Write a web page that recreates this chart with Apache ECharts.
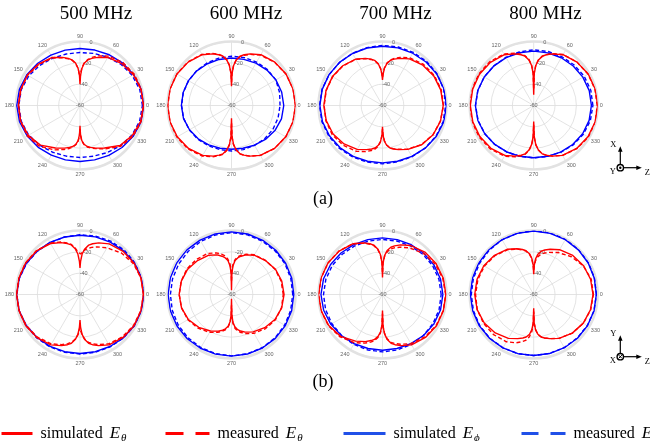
<!DOCTYPE html>
<html>
<head>
<meta charset="utf-8">
<script src="https://cdn.jsdelivr.net/npm/echarts@6/dist/echarts.min.js"></script>
<style>
  html, body { margin: 0; padding: 0; background: #fff; }
  #main { width: 650px; height: 441px; }
</style>
</head>
<body>
<div id="main"></div>
<script>
// angles (deg) for the theta curves, finer near the nulls at 90 / 270
var angRed = [0,15,30,45,60,70,76,80,84,87,89,90,91,93,96,100,104,110,120,135,150,165,180,
  195,210,225,240,250,256,260,264,267,269,270,271,273,276,280,284,290,300,315,330,345,360];
// angles for the phi curves
var angBlue = [0,15,30,45,60,75,90,105,120,135,150,165,180,195,210,225,240,255,270,285,300,315,330,345,360];

var freqs = ['500 MHz', '600 MHz', '700 MHz', '800 MHz'];
var radTicks = [-60, -40, -20, 0];

// ---- (a) row ----
var a500SimT = [-0.5,-0.9,-2.2,-4.5,-8,-12,-14.5,-16.5,-20,-25,-32,-40,-32,-25,-20,-16.5,-14.5,-12,-8,-5,-3,-2.4,-2.2,-2.5,-4,-7.5,-14,-17.5,-19.5,-21,-23.5,-27,-33,-41,-33,-27,-23.5,-21,-19.5,-17.5,-14,-7,-3.5,-1.2,-0.5];
var a500MeasT = [-0.3,-0.5,-1.2,-3,-6.5,-10.5,-13.5,-16,-19.5,-24,-30,-37,-31,-25,-20.5,-17,-15,-12.5,-8.5,-5.5,-3.3,-2.6,-2.5,-2.3,-3,-6,-12,-16,-18.5,-20.5,-23,-26.5,-32,-38,-32,-26.5,-23,-20.5,-19,-17,-13,-6,-2.5,-0.7,-0.3];
var a500SimP = [0,-0.5,-1.9,-3.6,-5.1,-6.2,-6.5,-6.3,-5.4,-4,-2.4,-1.2,-0.7,-1.3,-2.8,-4.6,-6.2,-7.2,-7.5,-7.2,-6,-4.3,-2.3,-0.7,0];
var a500MeasP = [-1.5,-2,-3.5,-5.5,-7.8,-9.5,-10.3,-10,-8.8,-6.8,-4.5,-3,-2.6,-3,-4.5,-7,-9.3,-10.8,-11.3,-10.8,-9,-6.5,-4,-2.2,-1.5];

var a600SimT = [0,-0.3,-1,-2.5,-5,-8.5,-11,-13,-17,-22.5,-30,-42,-30,-22.5,-17,-13,-11,-8.5,-5,-2.5,-1,-0.3,0,-0.4,-1.3,-3,-6,-9.5,-12,-14,-18,-23.5,-31,-48,-31,-23.5,-18,-14,-12,-9.5,-6,-3,-1.3,-0.4,0];
var a600MeasT = [0,-0.2,-1,-2.8,-5.5,-9,-11.5,-13.5,-17,-22,-29,-38,-29,-22,-16.5,-12.8,-10.5,-8,-4.6,-2.2,-0.8,-0.3,-0.3,-0.2,-0.8,-2.3,-5.2,-8.8,-11.5,-13.5,-17.5,-23,-30,-44,-30,-23,-18,-14,-12,-9.5,-6,-3,-1.2,-0.3,0];
var a600SimP = [-11,-11.3,-12,-13,-14.2,-15.2,-15.5,-15.3,-14.8,-14,-13.4,-13.1,-13,-13.4,-14.5,-15.8,-17.3,-18.5,-19,-18.5,-17,-15,-13,-11.5,-11];
var a600MeasP = [-14.5,-13.3,-12,-12.3,-13,-13.5,-13.8,-14,-14,-13.8,-13.5,-13.2,-13.2,-13.5,-14.3,-15.3,-16.5,-17.2,-17.3,-17.2,-16.8,-16,-15.2,-14.8,-14.5];

var a700SimT = [-3.1,-3.5,-4.5,-6.5,-9.5,-13,-15.2,-17,-20.5,-25,-31,-36,-31,-25,-20.5,-17,-15.2,-13,-9.8,-7.3,-5.8,-5.2,-5,-5.4,-6.5,-9,-12.5,-16,-18,-19.5,-22.5,-26.5,-32.5,-40,-32.5,-26.5,-22.5,-19.5,-18,-16,-12.5,-8,-5.2,-3.7,-3.1];
var a700MeasT = [-2.8,-3,-3.8,-5.5,-8.5,-12,-14.5,-16.5,-20,-24.5,-30,-34,-31,-25.5,-20.8,-17.3,-15.5,-13.3,-10,-7.5,-6,-5.4,-5.3,-5,-5.5,-7.5,-10.5,-14,-16.5,-18.3,-21.5,-26,-32,-38,-33,-27,-22.8,-19.8,-18.3,-16.3,-12.8,-8.2,-5.3,-3.8,-2.8];
var a700SimP = [0,-0.3,-1.2,-2.3,-3.4,-4.1,-4.4,-4.2,-3.7,-2.9,-2.1,-1.5,-1.3,-1.7,-2.7,-3.9,-5,-5.9,-6.2,-5.9,-4.9,-3.4,-1.8,-0.5,0];
var a700MeasP = [-0.8,-0.7,-0.8,-1.5,-2.5,-3.2,-3.6,-3.8,-3.6,-3,-2.2,-1.3,-1,-1.2,-2,-3,-4.2,-5,-5.3,-5.3,-4.6,-3.5,-2.2,-1.2,-0.8];

var a800SimT = [0,-0.3,-1,-2.5,-5,-8.5,-11,-13,-17,-22.5,-30,-50,-30,-22.5,-17,-13,-11,-8.5,-5,-2.7,-1.3,-0.8,-0.6,-0.9,-1.7,-3.3,-6,-9.5,-12,-14,-18,-23.5,-31,-45,-31,-23.5,-18,-14,-12,-9.5,-6,-3,-1.3,-0.4,0];
var a800MeasT = [-0.5,-0.6,-1.2,-2.5,-4.8,-8.3,-10.8,-13,-17,-22,-29,-45,-29,-22,-16.5,-12.6,-10.5,-7.8,-4.2,-1.8,-0.6,0,0,-0.2,-0.9,-2.4,-5.2,-8.8,-11.4,-13.5,-17.5,-23,-30,-42,-30,-23,-18,-14,-12,-9.5,-6,-2.8,-0.8,-0.2,-0.5];
var a800SimP = [-5.9,-6.1,-6.8,-7.6,-8.3,-8.9,-9,-8.8,-8.2,-7.4,-6.5,-5.7,-5.3,-5.8,-7,-8.4,-9.7,-10.7,-11,-10.7,-9.6,-8.3,-7,-6.2,-5.9];
var a800MeasP = [-4.5,-4.6,-5.3,-6.3,-7.2,-7.6,-7.8,-8,-7.9,-7.3,-6.4,-5.8,-5.5,-6,-7.1,-8.3,-9.6,-10.6,-10.9,-10.5,-9.3,-7.7,-6.2,-5,-4.5];

// ---- (b) row ----
var b500SimT = [-0.6,-0.8,-1.4,-2.8,-5.2,-8.5,-11,-13,-17,-22,-29,-35,-29,-22,-16.8,-12.8,-10.8,-8.2,-4.8,-2.3,-1.1,-0.7,-0.6,-0.8,-1.3,-2.8,-5.5,-9,-11.5,-13.5,-17.5,-22.5,-29.5,-36,-29.5,-22.5,-17.5,-13.5,-11.5,-9,-5.5,-3,-1.5,-0.9,-0.6];
var b500MeasT = [-0.4,-0.8,-2.2,-5,-9.5,-12.5,-14.5,-16,-18,-20,-22,-23,-22.5,-20,-16,-12.3,-10.2,-7.6,-4.3,-2,-0.9,-0.5,-0.5,-1,-1.8,-3.5,-6.5,-10,-12.5,-14.5,-18,-22,-26,-29,-26,-22,-18,-14.5,-12.5,-10,-6.5,-3.8,-2,-1,-0.4];
var b500SimP = [0,-0.3,-1.1,-2.2,-3.3,-4.1,-4.4,-4.2,-3.6,-2.8,-1.8,-1,-0.6,-1,-1.9,-3,-3.9,-4.5,-4.7,-4.5,-3.7,-2.5,-1.3,-0.4,0];
var b500MeasP = [-0.3,-0.2,-0.5,-1.2,-2.3,-3.3,-4,-4.2,-3.8,-3,-2,-1.2,-0.8,-0.9,-1.5,-2.5,-3.4,-4,-4.1,-4,-3.4,-2.3,-1.2,-0.5,-0.3];

var b600SimT = [-10.7,-11.2,-12.5,-15,-17.5,-20.5,-23,-25,-28,-33,-40,-56,-40,-33,-28,-25,-23,-20.5,-17.5,-15,-12.5,-11.3,-10.9,-11.5,-13.2,-16.5,-20.5,-23.5,-25.5,-27.3,-30,-34.5,-41,-56,-41,-34,-29.5,-26.5,-24.7,-22.5,-19.5,-16,-13,-11.3,-10.7];
var b600MeasT = [-11.5,-11.8,-12.8,-14.8,-17,-19.8,-22,-24,-27,-31,-37,-48,-37,-31,-26.5,-23,-21,-18.5,-15.5,-13.5,-11.8,-11.2,-11,-11.5,-12.8,-15.5,-19,-22.3,-24.5,-26.3,-29.3,-33.5,-39,-50,-39,-32.5,-28,-25,-23.3,-21,-18,-14.8,-12.5,-11.5,-11.5];
var b600SimP = [-1.6,-1.5,-1.4,-1.3,-1.3,-1.3,-1.3,-1.2,-1.1,-0.9,-0.7,-0.6,-0.6,-0.7,-1,-1.4,-1.8,-2.1,-2.2,-2.2,-2.1,-1.9,-1.7,-1.6,-1.6];
var b600MeasP = [-2.6,-2.4,-2.2,-2.2,-2.2,-2.1,-2,-2.2,-2.5,-2.7,-2.8,-2.8,-2.7,-2.5,-2.4,-2.5,-2.6,-2.6,-2.5,-2.4,-2.4,-2.4,-2.5,-2.6,-2.6];

var b700SimT = [-0.6,-1,-2,-3.8,-7,-10.5,-13,-15,-18.5,-23.5,-30.5,-44,-30,-22.5,-17,-13,-11,-8.5,-5,-2.5,-1,-0.3,0,-0.5,-1.8,-4.5,-9.5,-13,-15.5,-17.3,-20.5,-25,-31.5,-45,-30,-23,-17.5,-13.5,-11.5,-9,-5.5,-3,-1.5,-0.9,-0.6];
var b700MeasT = [-0.8,-1.5,-3,-5.5,-9.5,-12.8,-15,-16.8,-20,-24.5,-31,-40,-30,-23,-17.5,-13.5,-11.5,-8.8,-5,-2.3,-1,-0.4,-0.3,-0.5,-1.5,-3.8,-7.8,-11.5,-14,-16,-19.5,-24,-30.5,-42,-30.5,-23.5,-18.3,-14.5,-12.7,-10.3,-6.8,-3.8,-2,-1.1,-0.8];
var b700SimP = [-3.4,-3.7,-4.4,-5.3,-6.1,-6.7,-6.9,-6.7,-6,-5,-3.8,-2.8,-2.3,-2.9,-4.1,-5.5,-6.8,-7.6,-7.8,-7.6,-6.8,-5.6,-4.5,-3.7,-3.4];
var b700MeasP = [-5,-5.2,-5.8,-6.6,-7.4,-8.1,-8.4,-8.2,-7.5,-6.6,-5.6,-5,-4.7,-4.8,-5.2,-5.7,-6,-6.2,-6.2,-6.2,-6,-5.7,-5.4,-5.1,-5];

var b800SimT = [-4.4,-4.8,-6,-8.2,-11.5,-14.8,-17,-18.7,-22,-26.5,-33,-41,-32.5,-26,-21.5,-18.3,-16.5,-14.3,-11,-8,-6,-5,-4.7,-5.1,-6.5,-9,-12.5,-16,-18,-19.5,-22.5,-27,-33.5,-47,-33.5,-27,-22.5,-19.5,-18,-16,-12.5,-8.8,-6.3,-4.9,-4.4];
var b800MeasT = [-4,-4.2,-6.3,-10,-14.5,-18,-20,-21.7,-24.5,-28.5,-34,-38,-33,-26.5,-22,-18.7,-17,-14.7,-11.5,-8.5,-6.7,-5.8,-5.5,-5.2,-5.7,-6.8,-8.8,-11.8,-14.3,-16.3,-20,-25,-32,-44,-33,-27,-22.5,-19.5,-18,-16,-12.5,-8.8,-6.2,-4.7,-4];
var b800SimP = [-1.3,-1.2,-1,-0.8,-0.7,-0.6,-0.6,-0.6,-0.6,-0.6,-0.6,-0.6,-0.6,-0.8,-1.2,-1.7,-2.2,-2.6,-2.8,-2.7,-2.4,-2,-1.7,-1.4,-1.3];
var b800MeasP = [-1.2,-1,-0.7,-0.4,-0.2,-0.2,-0.3,-0.5,-0.8,-1.1,-1.4,-1.5,-1.5,-1.5,-1.6,-1.9,-2.3,-2.6,-2.8,-2.8,-2.6,-2.3,-1.9,-1.5,-1.2];

var plots = [
  [a500SimT, a500MeasT, a500SimP, a500MeasP],
  [a600SimT, a600MeasT, a600SimP, a600MeasP],
  [a700SimT, a700MeasT, a700SimP, a700MeasP],
  [a800SimT, a800MeasT, a800SimP, a800MeasP],
  [b500SimT, b500MeasT, b500SimP, b500MeasP],
  [b600SimT, b600MeasT, b600SimP, b600MeasP],
  [b700SimT, b700MeasT, b700SimP, b700MeasP],
  [b800SimT, b800MeasT, b800SimP, b800MeasP]
];

var legendWords = { simT: ['simulated', 'θ'], measT: ['measured', 'θ'], simP: ['simulated', 'ϕ'], measP: ['measured', 'ϕ'] };

var RED = '#ff0000', BLUE = '#0000ff', LBLUE = '#2050e8';
var SERIF = '"Liberation Serif", "DejaVu Serif", serif';
var cx = [80, 231.5, 382.5, 533.7];
var cy = [105.5, 294.5];

function pairs(vals, angs) {
  return angs.map(function (a, k) { return [vals[k], a]; });
}

var polar = [], angleAxis = [], radiusAxis = [], series = [];
for (var i = 0; i < 8; i++) {
  var c = [cx[i % 4], cy[Math.floor(i / 4)]];
  polar.push({ center: c, radius: 64 });
  angleAxis.push({
    polarIndex: i, type: 'value', min: 0, max: 360, interval: 30,
    startAngle: 0, clockwise: false,
    axisLine: { lineStyle: { color: '#e2e2e2', width: 2.5 } },
    axisTick: { show: false },
    axisLabel: { fontSize: 5.5, color: '#666', margin: 2,
      formatter: function (v) { return v === 360 ? '' : v; } },
    splitLine: { lineStyle: { color: '#dcdcdc', width: 0.8 } }
  });
  radiusAxis.push({
    polarIndex: i, type: 'value', min: -60, max: 0, interval: 20,
    axisLine: { show: false }, axisTick: { show: false }, axisLabel: { show: false },
    splitLine: { lineStyle: { color: '#dcdcdc', width: 0.8 } }
  });

  var p = plots[i];
  var defs = [
    { name: 'simP', d: pairs(p[2], angBlue), color: BLUE, type: 'solid' },
    { name: 'measP', d: pairs(p[3], angBlue), color: BLUE, type: [4, 2.5] },
    { name: 'simT', d: pairs(p[0], angRed), color: RED, type: 'solid' },
    { name: 'measT', d: pairs(p[1], angRed), color: RED, type: [4, 2.5] }
  ];
  defs.forEach(function (s) {
    series.push({
      type: 'line', coordinateSystem: 'polar', polarIndex: i, name: s.name,
      data: s.d, symbol: 'none', silent: true,
      lineStyle: { color: s.color, width: 1.4, type: s.type },
      itemStyle: { color: s.color }
    });
  });
}
// overlay polars carrying the dB labels along the 80 deg spoke
for (var j = 0; j < 8; j++) {
  polar.push({ center: [cx[j % 4], cy[Math.floor(j / 4)]], radius: 64 });
  angleAxis.push({ polarIndex: 8 + j, type: 'value', min: 0, max: 360, startAngle: 80, show: false });
  radiusAxis.push({
    polarIndex: 8 + j, type: 'value', min: radTicks[0], max: radTicks[3], interval: 20,
    axisLine: { show: false }, axisTick: { show: false }, splitLine: { show: false },
    axisLabel: { fontSize: 5.5, color: '#666', margin: 0, align: 'center', verticalAlign: 'middle' }
  });
}

var titles = [];
var titleX = [96, 246, 395.5, 545.5];
freqs.forEach(function (f, k) {
  titles.push({ text: f, left: titleX[k], top: 5, textAlign: 'center', padding: 0,
    textStyle: { fontFamily: SERIF, fontSize: 19, fontWeight: 'normal', color: '#000' } });
});
titles.push({ text: '(a)', left: 323, top: 190, textAlign: 'center', padding: 0,
  textStyle: { fontFamily: SERIF, fontSize: 18, fontWeight: 'normal', color: '#000' } });
titles.push({ text: '(b)', left: 323, top: 373, textAlign: 'center', padding: 0,
  textStyle: { fontFamily: SERIF, fontSize: 18, fontWeight: 'normal', color: '#000' } });

function legendItem(name, left, width, color, dash) {
  return {
    data: [name], left: left, top: 425, padding: 0, itemWidth: width, itemHeight: 14,
    selectedMode: false,
    itemStyle: { opacity: 0, color: 'transparent', borderWidth: 0 },
    lineStyle: { color: color, width: 3, type: dash },
    formatter: function (n) {
      var w = legendWords[n];
      return '{t|' + w[0] + '}{e|E}{s|' + w[1] + '}';
    },
    textStyle: {
      fontFamily: SERIF, color: '#000',
      rich: {
        t: { fontFamily: SERIF, fontSize: 16, color: '#000', padding: [0, 7, 0, 3] },
        e: { fontFamily: SERIF, fontSize: 17, fontStyle: 'italic', color: '#000' },
        s: { fontFamily: SERIF, fontSize: 11, fontStyle: 'italic', color: '#000', padding: [9, 0, 0, 1] }
      }
    }
  };
}

function triad(ox, oy, up, across, crossed) {
  var els = [
    { type: 'line', shape: { x1: ox, y1: oy - 3.5, x2: ox, y2: oy - 17 }, style: { stroke: '#000', lineWidth: 1.2 } },
    { type: 'polygon', shape: { points: [[ox, oy - 21.5], [ox - 2.3, oy - 16], [ox + 2.3, oy - 16]] }, style: { fill: '#000' } },
    { type: 'line', shape: { x1: ox + 3.5, y1: oy, x2: ox + 17, y2: oy }, style: { stroke: '#000', lineWidth: 1.2 } },
    { type: 'polygon', shape: { points: [[ox + 21.5, oy], [ox + 16, oy - 2.3], [ox + 16, oy + 2.3]] }, style: { fill: '#000' } },
    { type: 'circle', shape: { cx: ox, cy: oy, r: 3.2 }, style: { fill: '#fff', stroke: '#000', lineWidth: 1.4 } },
    { type: 'text', x: ox - 7, y: oy - 22.5, style: { text: up, font: '8.5px ' + SERIF, fill: '#000', align: 'center', verticalAlign: 'middle' } },
    { type: 'text', x: ox - 7.5, y: oy + 4.5, style: { text: across, font: '8.5px ' + SERIF, fill: '#000', align: 'center', verticalAlign: 'middle' } },
    { type: 'text', x: ox + 27, y: oy + 4.8, style: { text: 'Z', font: '8.5px ' + SERIF, fill: '#000', align: 'center', verticalAlign: 'middle' } }
  ];
  if (crossed) {
    els.push({ type: 'line', shape: { x1: ox - 1.6, y1: oy - 1.6, x2: ox + 1.6, y2: oy + 1.6 }, style: { stroke: '#000', lineWidth: 1 } });
    els.push({ type: 'line', shape: { x1: ox - 1.6, y1: oy + 1.6, x2: ox + 1.6, y2: oy - 1.6 }, style: { stroke: '#000', lineWidth: 1 } });
  } else {
    els.push({ type: 'circle', shape: { cx: ox, cy: oy, r: 1.2 }, style: { fill: '#000' } });
  }
  return els;
}

var chart = echarts.init(document.getElementById('main'));
var option = {
  animation: false,
  backgroundColor: '#fff',
  title: titles,
  legend: [
    legendItem('simT', 0, 31, RED, 'solid'),
    legendItem('measT', 164, 44, RED, [18, 12]),
    legendItem('simP', 342, 42, LBLUE, 'solid'),
    legendItem('measP', 520, 44, LBLUE, [17, 12])
  ],
  polar: polar,
  angleAxis: angleAxis,
  radiusAxis: radiusAxis,
  series: series,
  graphic: triad(620.3, 167.7, 'X', 'Y', false).concat(triad(620.3, 356.7, 'Y', 'X', true))
};
chart.setOption(option);
</script>
</body>
</html>
